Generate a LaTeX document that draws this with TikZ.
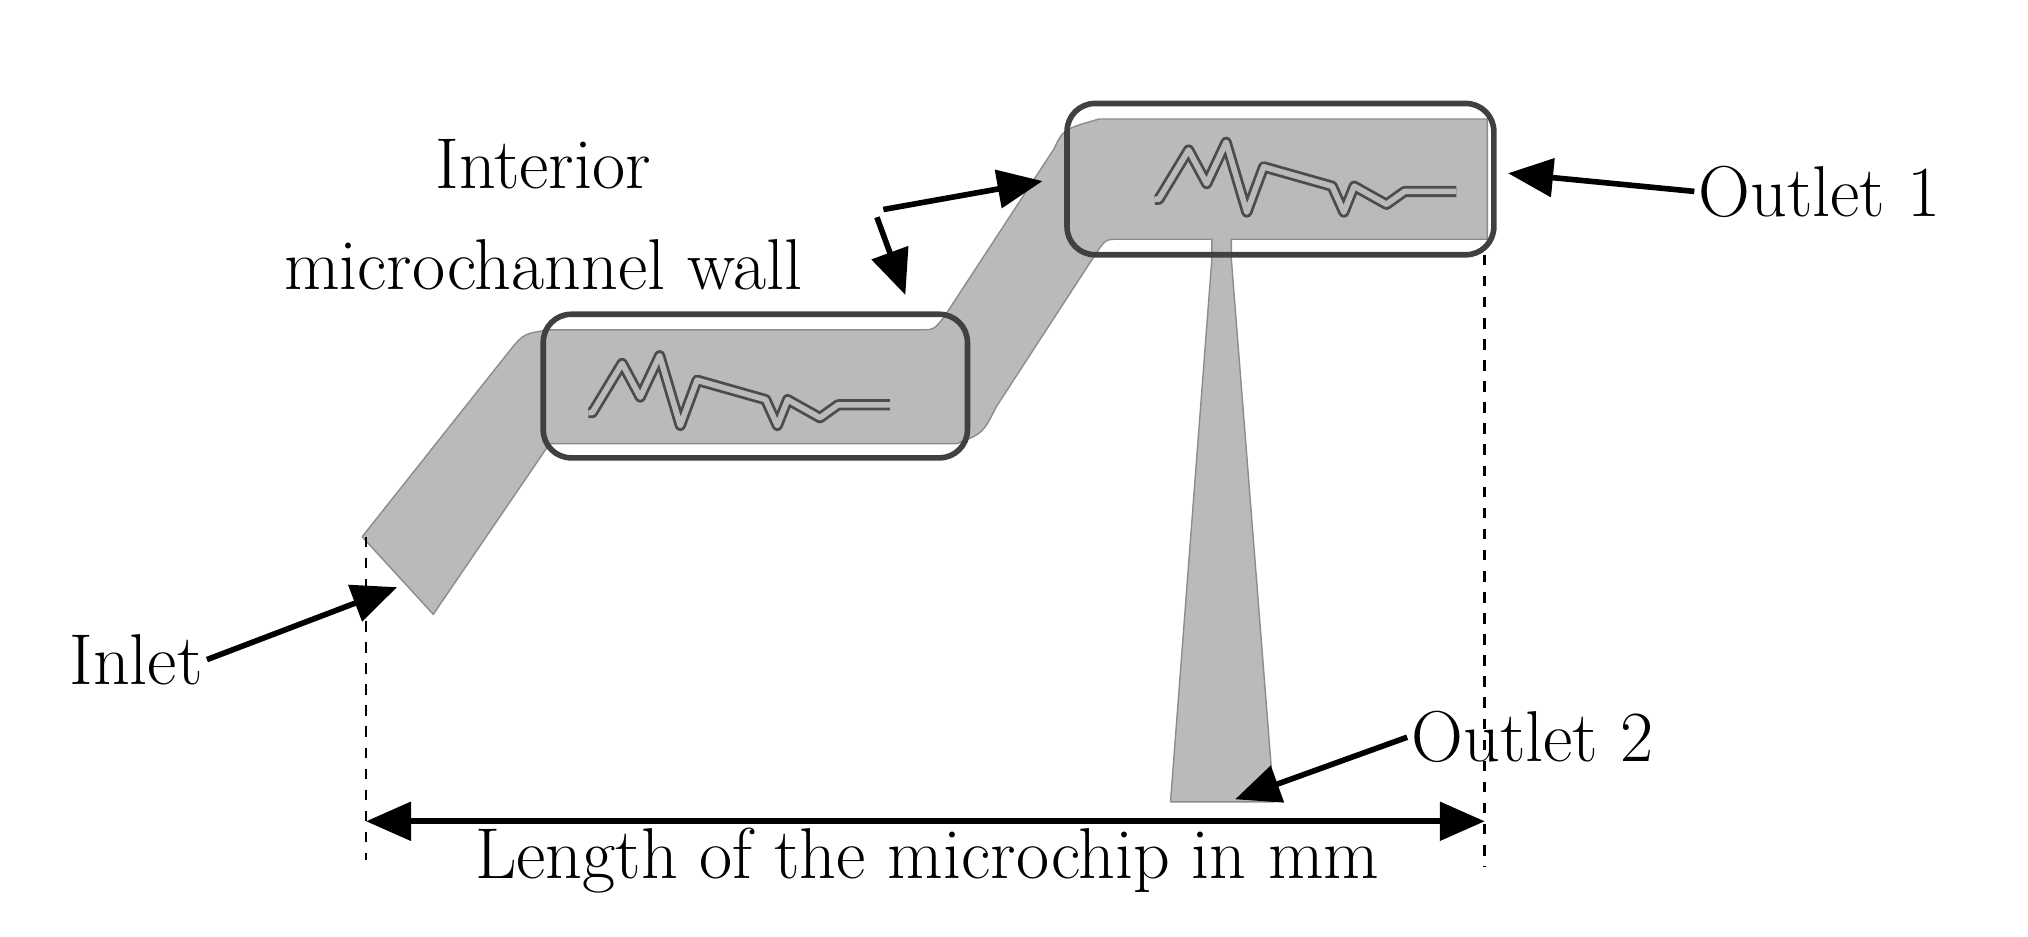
\documentclass[tikz,border=0pt]{standalone}
\usepackage{tikz}
\usetikzlibrary{arrows.meta}
\begin{document}
\begin{tikzpicture}[x=0.012934cm,y=-0.012934cm, line join=round,
  chan/.style={fill=black!27, draw=black!45, line width=0.4pt},
  box/.style={draw=black!75, line width=1.6pt, rounded corners=0.28cm},
  zig/.style={draw=black!70, line width=3.2pt},
  zigin/.style={draw=black!27, line width=1.6pt},
  lbl/.style={font=\fontsize{20.5}{24}\selectfont, inner sep=1pt},
  arr/.style={-{Triangle[length=0.45cm,width=0.38cm]}, line width=1.6pt},
  dim/.style={{Triangle[length=0.45cm,width=0.38cm]}-{Triangle[length=0.45cm,width=0.38cm]}, line width=1.6pt},
  dsh/.style={dashed, line width=0.8pt}]
\useasboundingbox (0,0) rectangle (1568,724);
% channel
\draw[chan] (280,415) -- (395,270) .. controls (405,258) .. (425,255) -- (712,255) .. controls (722,255) .. (730,245)
  -- (815,115) .. controls (822,100) .. (850,92) -- (1150,92) -- (1150,185) -- (952,185) -- (952,200)
  -- (985,620) -- (905,620) -- (937,200) -- (937,185) -- (865,185) .. controls (855,185) .. (848,195)
  -- (770,315) .. controls (760,335) .. (740,343) -- (425,343) -- (335,475) -- cycle;
% zigzags
\foreach \dx/\dy in {0/0, 438/-165}{
  \begin{scope}[shift={(\dx,\dy)}]
  \foreach \s in {zig, zigin}
    \draw[\s] (455,319) -- (458,319) -- (481,281) -- (495,307) -- (510,275) -- (526,329) -- (539,294) -- (592,309)
      -- (601,329) -- (609,309) -- (634,323) -- (648,313) -- (688,313);
  \end{scope}}
% boxes
\draw[box] (420,243) rectangle (748,354);
\draw[box] (825,80) rectangle (1155,197);
% dimension
\coordinate (dl) at (283,635);
\coordinate (dr) at (1148,635);
\draw[dsh] (283,415) -- (283,665);
\draw[dsh] (1148,197) -- (1148,670);
\draw[dim] (dl) -- (dr);
% labels
\node[lbl] (int) at (420,127) {Interior};
\node[lbl] (wall) at (420,205) {microchannel wall};
\node[lbl, anchor=west] (out1) at (1310,148) {Outlet 1};
\node[lbl, anchor=east] (inl) at (160,510) {Inlet};
\node[lbl, anchor=west] (out2) at (1088,570) {Outlet 2};
\node[lbl] (len) at (717,665) {Length of the microchip in mm};
% arrows
\coordinate (w0) at (683,162);
\coordinate (w1) at (678,168);
\draw[arr] (w0) -- (806,140);
\draw[arr] (w1) -- (700,228);
\draw[arr] (out1.west) -- (1166,134);
\draw[arr] (inl.east) -- (307,454);
\draw[arr] (out2.west) -- (955,618);
\end{tikzpicture}
\end{document}
